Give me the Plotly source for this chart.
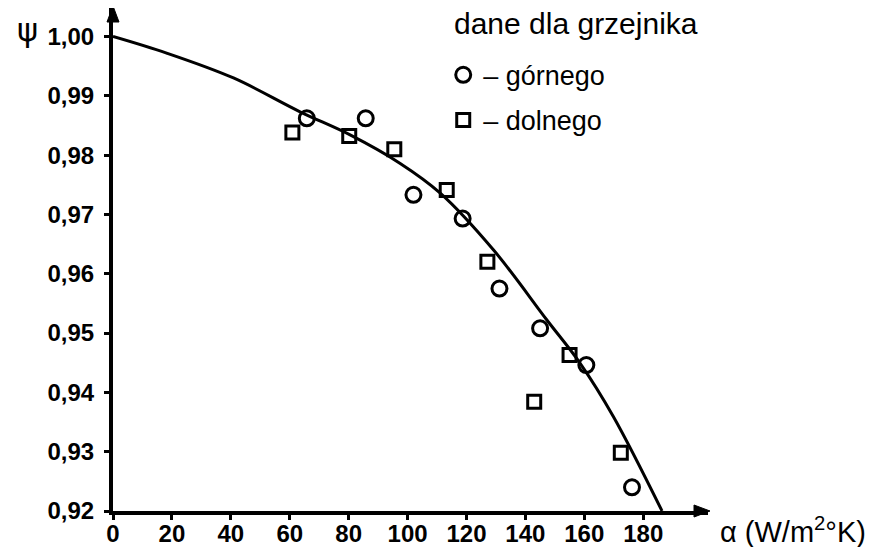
import plotly.graph_objects as go

# --- data ---
gorny_alpha = [65.8, 85.8, 102.0, 118.7, 131.2, 145.0, 160.7, 176.2]
gorny_psi = [0.9862, 0.9862, 0.9733, 0.9693, 0.9575, 0.9508, 0.9446, 0.9240]

dolny_alpha = [60.9, 80.2, 95.5, 113.3, 127.1, 143.0, 155.0, 172.4]
dolny_psi = [0.9838, 0.9832, 0.9810, 0.9741, 0.9620, 0.9384, 0.9463, 0.9298]

curve_alpha = [0, 18.2, 40.9, 63.5, 80.5, 97.5, 111.1, 129.2, 147.3, 158.6, 169.9, 186.4]
curve_psi = [1.000, 0.9972, 0.9930, 0.9873, 0.9834, 0.9786, 0.9736, 0.9640, 0.9522, 0.9449, 0.9359, 0.9200]

x_ticks = [0, 20, 40, 60, 80, 100, 120, 140, 160, 180]
y_ticks = [1.00, 0.99, 0.98, 0.97, 0.96, 0.95, 0.94, 0.93, 0.92]
y_ticktext = ["1,00", "0,99", "0,98", "0,97", "0,96", "0,95", "0,94", "0,93", "0,92"]

legend_title = "dane dla grzejnika"
name_gorny = "– górnego"
name_dolny = "– dolnego"

FONT = "Liberation Sans, Arial, sans-serif"
X_MIN, X_MAX = 0, 202
Y_MIN, Y_MAX = 0.92, 1.0048

fig = go.Figure()

fig.add_trace(go.Scatter(
    x=curve_alpha, y=curve_psi, mode="lines",
    line=dict(color="black", width=3, shape="spline", smoothing=1.0),
    showlegend=False, hoverinfo="skip",
))
fig.add_trace(go.Scatter(
    x=gorny_alpha, y=gorny_psi, mode="markers", name=name_gorny,
    legendgroup="g",
    marker=dict(symbol="circle-open", size=15, color="black", line=dict(width=3, color="black")),
))
fig.add_trace(go.Scatter(
    x=dolny_alpha, y=dolny_psi, mode="markers", name=name_dolny,
    legendgroup="d",
    marker=dict(symbol="square-open", size=13, color="black", line=dict(width=3, color="black")),
))

# the page adds an 8px body margin, so the figure is 8px smaller and shifted
fig.update_layout(
    width=873, height=539,
    margin=dict(l=105, r=173, t=0, b=36),
    paper_bgcolor="white", plot_bgcolor="white",
    font=dict(family=FONT, color="black"),
    legend=dict(
        x=0.555, y=0.915, xanchor="left", yanchor="top",
        font=dict(family=FONT, size=27, color="black"),
        bgcolor="rgba(0,0,0,0)", tracegroupgap=7, itemwidth=30,
    ),
    xaxis=dict(
        range=[X_MIN, X_MAX], showgrid=False, zeroline=False, automargin=False,
        showline=True, linecolor="black", linewidth=4,
        tickmode="array", tickvals=x_ticks,
        ticks="outside", ticklen=5, tickwidth=3, tickcolor="black",
        ticklabelstandoff=-7,
        tickfont=dict(family=FONT, size=24, color="black", weight="bold"),
    ),
    yaxis=dict(
        range=[Y_MIN, Y_MAX], showgrid=False, zeroline=False, automargin=False,
        showline=True, linecolor="black", linewidth=4,
        tickmode="array", tickvals=y_ticks, ticktext=y_ticktext,
        ticks="outside", ticklen=5, tickwidth=3, tickcolor="black",
        ticklabelstandoff=5,
        tickfont=dict(family=FONT, size=24, color="black", weight="bold"),
    ),
)

# axis arrowheads (fixed pixel size, anchored at the axis ends of the plot area)
fig.add_shape(type="path", xref="paper", yref="paper", xsizemode="pixel", ysizemode="pixel",
              xanchor=0, yanchor=1, path="M -6 -14 L 0 2 L 6 -14 Z",
              fillcolor="black", line=dict(color="black", width=1), layer="above")
fig.add_shape(type="path", xref="paper", yref="paper", xsizemode="pixel", ysizemode="pixel",
              xanchor=1, yanchor=0, path="M -14 -6 L 2 0 L -14 6 Z",
              fillcolor="black", line=dict(color="black", width=1), layer="above")

# legend heading
fig.add_annotation(text=legend_title, xref="paper", yref="paper", x=0.570, y=0.9688,
                   xanchor="left", yanchor="middle", showarrow=False,
                   font=dict(family=FONT, size=30, color="black"))

# axis titles
fig.add_annotation(text="ψ", xref="paper", yref="paper", x=-0.143, y=0.957,
                   xanchor="center", yanchor="middle", showarrow=False,
                   font=dict(family="DejaVu Sans", size=32, color="black"))
fig.add_annotation(text="α (W/m<sup>2</sup>°K)", xref="paper", yref="paper", x=1.016, y=-0.038,
                   xanchor="left", yanchor="middle", showarrow=False,
                   font=dict(family=FONT, size=29, color="black"))

fig.write_html("out.html")
